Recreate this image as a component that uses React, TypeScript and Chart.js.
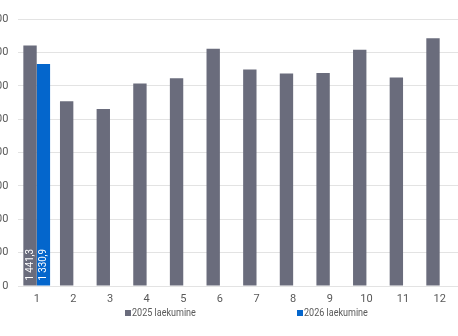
import React, { useEffect, useRef } from "react";
import { Chart, registerables } from "chart.js";

Chart.register(...registerables);

const months = ["1", "2", "3", "4", "5", "6", "7", "8", "9", "10", "11", "12"];
const values2025 = [1441.3, 1107, 1061, 1213, 1245, 1422, 1297, 1273, 1276, 1416, 1249, 1484];
const values2026 = [1330.9, null, null, null, null, null, null, null, null, null, null, null];
const shownLabels2025 = ["1 441,3", "", "", "", "", "", "", "", "", "", "", ""];
const shownLabels2026 = ["1 330,9", "", "", "", "", "", "", "", "", "", "", ""];
const seriesNames = ["2025 laekumine", "2026 laekumine"];
const yMax = 1600;
const yStep = 200;

const GRAY = "rgb(106,108,124)";
const BLUE = "rgb(4,102,204)";
const TEXT = "#595959";
const FONT = "Roboto, 'Noto Sans', sans-serif";

const fmt = (v: number) => {
  const s = Math.round(v).toString();
  return s.replace(/\B(?=(\d{3})+(?!\d))/g, " ");
};

const barLabelPlugin = {
  id: "barLabels",
  afterDatasetsDraw(chart: any) {
    const ctx = chart.ctx;
    const sets = [shownLabels2025, shownLabels2026];
    chart.data.datasets.forEach((_: any, di: number) => {
      const meta = chart.getDatasetMeta(di);
      meta.data.forEach((bar: any, i: number) => {
        const txt = sets[di][i];
        if (!txt) return;
        ctx.save();
        ctx.translate(bar.x, bar.base - 5);
        ctx.rotate(-Math.PI / 2);
        ctx.scale(0.92, 1);
        ctx.fillStyle = "#ffffff";
        ctx.font = "10.5px " + FONT;
        ctx.textAlign = "left";
        ctx.textBaseline = "middle";
        ctx.fillText(txt, 0, 0);
        ctx.restore();
      });
    });
  },
};

const legendPlugin = {
  id: "customLegend",
  afterDraw(chart: any) {
    const ctx = chart.ctx;
    const colors = [GRAY, BLUE];
    const xs = [155, 327];
    const y = 313;
    ctx.save();
    ctx.font = "10.5px " + FONT;
    ctx.textBaseline = "middle";
    ctx.textAlign = "left";
    seriesNames.forEach((name, i) => {
      ctx.fillStyle = colors[i];
      ctx.fillRect(xs[i], y - 3, 6, 6);
      ctx.fillStyle = TEXT;
      ctx.save();
      ctx.translate(xs[i] + 7, y);
      ctx.scale(0.86, 1);
      ctx.fillText(name, 0, 0);
      ctx.restore();
    });
    ctx.restore();
  },
};

export default function App() {
  const ref = useRef<HTMLCanvasElement | null>(null);
  useEffect(() => {
    if (!ref.current) return;
    const chart = new Chart(ref.current, {
      type: "bar",
      data: {
        labels: months,
        datasets: [
          { label: seriesNames[0], data: values2025, backgroundColor: GRAY },
          { label: seriesNames[1], data: values2026 as any, backgroundColor: BLUE },
        ],
      },
      options: {
        animation: false,
        responsive: false,
        maintainAspectRatio: false,
        layout: { padding: { top: 19, right: 0, bottom: 30, left: 0 } },
        datasets: { bar: { categoryPercentage: 0.73, barPercentage: 1.0 } },
        plugins: { legend: { display: false }, tooltip: { enabled: false } },
        scales: {
          x: {
            grid: { display: false, drawTicks: false },
            border: { display: false },
            ticks: { color: TEXT, font: { family: FONT, size: 11 }, padding: 7, maxRotation: 0 },
            afterFit: (s: any) => { s.height = 20; },
          },
          y: {
            min: 0,
            max: yMax,
            grid: { color: "#e3e3e3", lineWidth: 1, drawTicks: false },
            border: { display: false },
            ticks: {
              stepSize: yStep,
              color: TEXT,
              font: { family: FONT, size: 11 },
              padding: 10,
              callback: (v: any) => fmt(Number(v)),
            },
            afterFit: (s: any) => { s.width = 48.4; },
          },
        },
      },
      plugins: [barLabelPlugin, legendPlugin],
    });
    return () => chart.destroy();
  }, []);
  return (
    <div style={{ position: "fixed", left: 0, top: 0, width: 458, height: 336, overflow: "hidden", background: "#fff" }}>
      <canvas ref={ref} width={488} height={336} style={{ position: "absolute", left: -30, top: 0, width: 488, height: 336 }} />
    </div>
  );
}
